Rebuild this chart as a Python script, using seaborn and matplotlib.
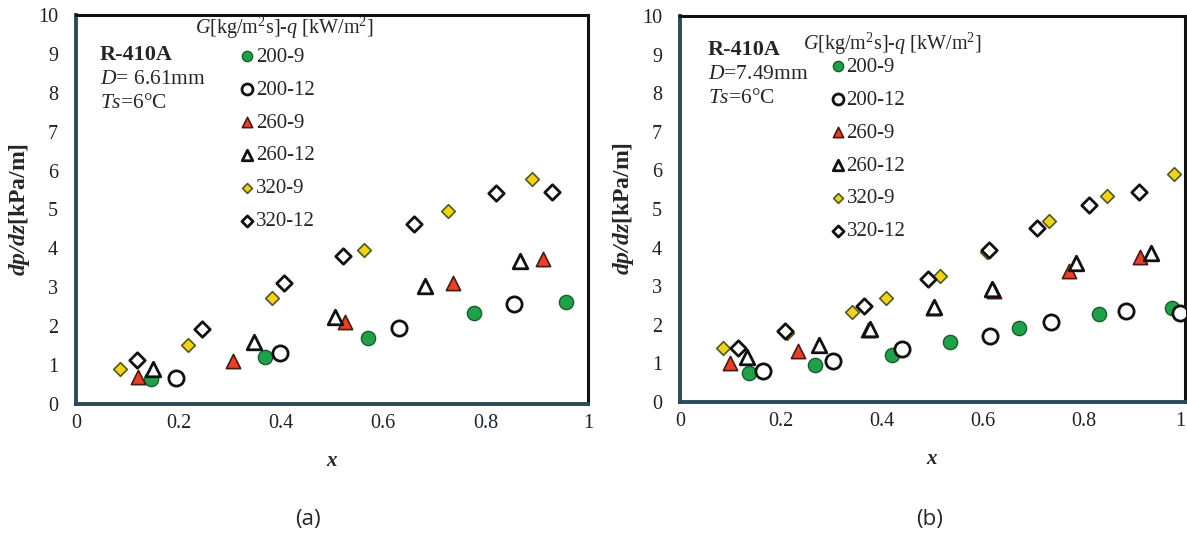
import matplotlib
matplotlib.use("Agg")
import matplotlib.pyplot as plt
import seaborn as sns
import pandas as pd

sns.set_style("white")
plt.rcParams['font.family'] = ['Liberation Serif', 'DejaVu Serif']
plt.rcParams['mathtext.fontset'] = 'custom'
plt.rcParams['mathtext.rm'] = 'Liberation Serif'
plt.rcParams['mathtext.it'] = 'Liberation Serif:italic'
plt.rcParams['mathtext.bf'] = 'Liberation Serif:bold'
plt.rcParams['mathtext.bfit'] = 'Liberation Serif:bold:italic'

series_labels = ["200-9", "200-12", "260-9", "260-12", "320-9", "320-12"]

# Panel (a): D = 6.61 mm
a_x_200_9 = [0.147, 0.370, 0.571, 0.778, 0.958]
a_y_200_9 = [0.63, 1.20, 1.69, 2.35, 2.63]
a_x_200_12 = [0.195, 0.398, 0.631, 0.856]
a_y_200_12 = [0.67, 1.32, 1.96, 2.56]
a_x_260_9 = [0.122, 0.306, 0.526, 0.736, 0.912]
a_y_260_9 = [0.70, 1.10, 2.11, 3.12, 3.72]
a_x_260_12 = [0.151, 0.347, 0.505, 0.681, 0.868]
a_y_260_12 = [0.89, 1.60, 2.24, 3.04, 3.68]
a_x_320_9 = [0.085, 0.218, 0.383, 0.562, 0.726, 0.890]
a_y_320_9 = [0.91, 1.51, 2.73, 3.95, 4.97, 5.78]
a_x_320_12 = [0.120, 0.247, 0.406, 0.522, 0.661, 0.821, 0.930]
a_y_320_12 = [1.13, 1.94, 3.10, 3.81, 4.64, 5.42, 5.44]

# Panel (b): D = 7.49 mm
b_x_200_9 = [0.137, 0.267, 0.419, 0.535, 0.671, 0.830, 0.974]
b_y_200_9 = [0.75, 0.97, 1.23, 1.56, 1.92, 2.27, 2.43]
b_x_200_12 = [0.165, 0.302, 0.440, 0.614, 0.734, 0.883, 0.990]
b_y_200_12 = [0.80, 1.06, 1.38, 1.71, 2.06, 2.36, 2.30]
b_x_260_9 = [0.099, 0.233, 0.372, 0.500, 0.622, 0.771, 0.911]
b_y_260_9 = [1.00, 1.32, 1.86, 2.43, 2.88, 3.39, 3.75]
b_x_260_12 = [0.132, 0.276, 0.376, 0.502, 0.617, 0.785, 0.933]
b_y_260_12 = [1.17, 1.47, 1.88, 2.45, 2.92, 3.59, 3.85]
b_x_320_9 = [0.086, 0.212, 0.340, 0.407, 0.515, 0.607, 0.730, 0.845, 0.978]
b_y_320_9 = [1.41, 1.78, 2.34, 2.69, 3.26, 3.88, 4.68, 5.34, 5.91]
b_x_320_12 = [0.115, 0.208, 0.364, 0.492, 0.611, 0.706, 0.810, 0.908]
b_y_320_12 = [1.39, 1.84, 2.49, 3.19, 3.95, 4.52, 5.11, 5.45]

x_ticks = [0, 0.2, 0.4, 0.6, 0.8, 1.0]
x_tick_labels = ["0", "0.2", "0.4", "0.6", "0.8", "1"]
y_ticks = list(range(0, 11))

panel_a = [(a_x_200_9, a_y_200_9), (a_x_200_12, a_y_200_12), (a_x_260_9, a_y_260_9),
           (a_x_260_12, a_y_260_12), (a_x_320_9, a_y_320_9), (a_x_320_12, a_y_320_12)]
panel_b = [(b_x_200_9, b_y_200_9), (b_x_200_12, b_y_200_12), (b_x_260_9, b_y_260_9),
           (b_x_260_12, b_y_260_12), (b_x_320_9, b_y_320_9), (b_x_320_12, b_y_320_12)]

styles = {
    "200-9":  dict(marker="o", facecolor="#21a04b", edgecolor="#155e2c", s=105, lw=1.0),
    "200-12": dict(marker="o", facecolor="white", edgecolor="#111111", s=120, lw=2.0),
    "260-9":  dict(marker="^", facecolor="#e8402a", edgecolor="#4a1a12", s=105, lw=1.2),
    "260-12": dict(marker="^", facecolor="white", edgecolor="#111111", s=110, lw=2.0),
    "320-9":  dict(marker="D", facecolor="#f2d21a", edgecolor="#4f5a1e", s=48, lw=1.2),
    "320-12": dict(marker="D", facecolor="white", edgecolor="#111111", s=62, lw=2.0),
}

fig = plt.figure(figsize=(11.87, 5.54), dpi=100)
ax1 = fig.add_axes([76/1187, 1-404/554, (588-76)/1187, (404-15)/554])
ax2 = fig.add_axes([680/1187, 1-402/554, (1185-680)/1187, (402-16)/554])

def draw(ax, panel, legend_anchor, title_pos, notes, note_pos, last_right=False):
    for lab, (xs, ys) in zip(series_labels, panel):
        st = styles[lab]
        df = pd.DataFrame({"x": xs, "y": ys})
        sns.scatterplot(data=df, x="x", y="y", ax=ax, marker=st["marker"], s=st["s"],
                        facecolor=st["facecolor"], edgecolor=st["edgecolor"],
                        linewidth=st["lw"], label=lab, zorder=3)
    ax.set_xlim(0, 1)
    ax.set_ylim(0, 10)
    ax.set_xticks(x_ticks)
    ax.set_xticklabels(x_tick_labels)
    ax.set_yticks(y_ticks)
    ax.tick_params(direction="in", length=4, width=1.2, color="#9ec3d8",
                   labelsize=14.5, labelcolor="#1c2228")
    ax.tick_params(axis="x", pad=7)
    ax.tick_params(axis="y", pad=13)
    if last_right:
        ax.get_xticklabels()[-1].set_horizontalalignment("right")
    ax.set_xlabel(r"$\mathbfit{x}$", fontsize=15, labelpad=14)
    ax.set_ylabel(r"$\mathbfit{dp/dz}$[kPa/m]", fontsize=17, fontweight="bold", labelpad=4)
    for side in ["top", "right"]:
        ax.spines[side].set_color("#111111")
        ax.spines[side].set_linewidth(2.2)
    for side in ["left", "bottom"]:
        ax.spines[side].set_color("#2b4a57")
        ax.spines[side].set_linewidth(2.8)
    ax.legend(loc="upper left", bbox_to_anchor=legend_anchor, frameon=False,
              fontsize=15, labelspacing=0.64, handletextpad=0.0,
              handlelength=0.8, markerscale=0.72, borderpad=0.2)
    ax.text(title_pos[0], title_pos[1], r"$G$[kg/m$^2$s]-$q$ [kW/m$^2$]",
            transform=ax.transAxes, fontsize=14.5, va="center", ha="left")
    y0, dy = note_pos
    ax.text(notes[0], y0, "R-410A", transform=ax.transAxes, fontsize=16,
            fontweight="bold", va="center", ha="left")
    ax.text(notes[0], y0 - dy, notes[1], transform=ax.transAxes, fontsize=15.5,
            va="center", ha="left")
    ax.text(notes[0], y0 - 2*dy, r"$Ts$=6°C", transform=ax.transAxes, fontsize=15.5,
            va="center", ha="left")

draw(ax1, panel_a, (0.290, 0.955), (0.232, 0.966), (0.047, r"$D$= 6.61mm"), (0.897, 0.0617))
draw(ax2, panel_b, (0.268, 0.931), (0.244, 0.929), (0.055, r"$D$=7.49mm"), (0.912, 0.063),
     last_right=True)

fig.text(308/1187, 1-520/554, "(a)", fontsize=16, family="Open Sans", ha="center", va="center")
fig.text(930/1187, 1-520/554, "(b)", fontsize=16, family="Open Sans", ha="center", va="center")

fig.savefig("out.png", dpi=100, facecolor="white")
